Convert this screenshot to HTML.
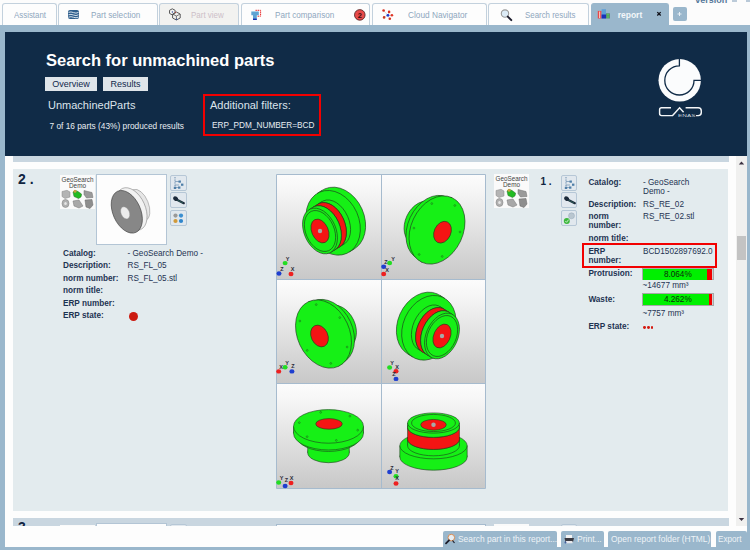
<!DOCTYPE html>
<html><head><meta charset="utf-8">
<style>
*{margin:0;padding:0;box-sizing:border-box}
html,body{width:750px;height:550px;overflow:hidden;background:#fcfcfc;font-family:"Liberation Sans",sans-serif;position:relative}
.a{position:absolute}
.tab{position:absolute;top:3px;height:22px;background:#fdfdfd;border:1px solid #c3d1dd;border-bottom:none;border-radius:3px 3px 0 0;color:#8fa7bd;font-size:9px;line-height:22px;white-space:nowrap}
.tab .t{position:absolute;top:0;transform-origin:0 50%}
.frame{position:absolute;left:0;top:25px;width:750px;height:525px;background:#9ab7cc}
.navy{position:absolute;left:5px;top:32px;width:742px;height:124px;background:#102b47}
.content{position:absolute;left:5px;top:156px;width:742px;height:370px;background:#fdfdfd;overflow:hidden}
.card{position:absolute;background:#e3ebee}
.band{position:absolute;background:#c9d6e0}
.lbl{position:absolute;font-size:8.2px;font-weight:bold;color:#1e3352;white-space:nowrap;line-height:9px}
.val{position:absolute;font-size:8.2px;color:#1e3352;white-space:nowrap;line-height:9px}
.btn{position:absolute;top:531px;height:19px;background:#9ab7cc;border-radius:2px 2px 0 0;color:#eef3f7;font-size:9px;line-height:16px;white-space:nowrap}
</style></head><body>
<!-- top "version" -->
<div class="a" style="left:695.2px;top:-4.3px;font-size:9px;line-height:9px;font-weight:bold;color:#56789a">version</div>
<div class="a" style="left:732px;top:0;width:5px;height:2px;background:#bccbd9"></div>
<div class="a" style="left:746px;top:0;width:4px;height:2px;background:#b9c9d8"></div>

<div class="frame"></div>

<!-- tabs -->
<div class="tab" style="left:2px;width:55px"><span class="t" style="left:10.5px;transform:scaleX(0.877)">Assistant</span></div>
<div class="tab" style="left:58px;width:100px"><span class="t" style="left:31.9px;transform:scaleX(0.905)">Part selection</span></div>
<div class="tab" style="left:159px;width:80px;background:#f2f2f0"><span class="t" style="left:31px;color:#cdbfc8;transform:scaleX(0.886)">Part view</span></div>
<div class="tab" style="left:241px;width:129px"><span class="t" style="left:33.3px;transform:scaleX(0.905)">Part comparison</span></div>
<div class="tab" style="left:372px;width:115px"><span class="t" style="left:35px;transform:scaleX(0.919)">Cloud Navigator</span></div>
<div class="tab" style="left:488px;width:101px"><span class="t" style="left:35.7px;transform:scaleX(0.877)">Search results</span></div>
<div class="tab" style="left:591px;width:78px;background:#9ab7cc;border-color:#9ab7cc;color:#f4f7fa;font-weight:bold"><span class="t" style="left:25.7px;font-size:8.5px">report</span></div>
<div class="a" style="left:673px;top:7px;width:14px;height:14px;background:#9ab7cc;border-radius:2px"></div>

<svg class="a" style="left:0;top:0" width="750" height="26" viewBox="0 0 750 26">
<!-- part selection stack -->
<rect x="68" y="10" width="11" height="9" rx="2" fill="#2f5e8c"/>
<path d="M68.5 12.4 Q71 11.4 73.5 12.6 T78.5 12.4 M68.5 14.8 Q71 13.8 73.5 15 T78.5 14.8 M68.5 17.1 Q71 16.2 73.5 17.3 T78.5 17.1" stroke="#e6eef5" stroke-width="0.9" fill="none"/>
<!-- part view cubes -->
<g fill="none" stroke="#5a5a5a" stroke-width="1">
<path d="M169.5 10.3 L172.3 8.8 L175.1 10.3 L175.1 13.4 L172.3 14.9 L169.5 13.4Z"/>
<path d="M172.6 14 L176.4 12 L180.2 14 L180.2 18 L176.4 20 L172.6 18Z"/>
<path d="M176.4 16 V19.6 M176.4 16 L173 14.3 M176.4 16 L179.8 14.3" stroke-width="0.8"/>
</g>
<circle cx="172.4" cy="12" r="0.7" fill="#3050a0"/><circle cx="175.5" cy="12.4" r="0.6" fill="#b04040"/><circle cx="176.5" cy="19.3" r="0.7" fill="#3050a0"/>
<!-- part comparison -->
<path d="M255.5 10.3 H260.6 V16.2 H257" fill="none" stroke="#e82020" stroke-width="1" stroke-dasharray="1.4 0.7"/>
<path d="M251.3 11.6 H258.8 V15.3 H256.8 V19.8 H253 V15.3 H251.3Z" fill="#5fa3d3"/>
<rect x="253" y="18.6" width="3.8" height="1.4" fill="#1a2fb0"/>
<!-- badge -->
<circle cx="359.8" cy="14.9" r="5.3" fill="#e84a4a" stroke="#4a2020" stroke-width="0.8"/>
<text x="359.8" y="17.6" font-family="Liberation Sans" font-size="7.5" font-weight="bold" fill="#3a1010" text-anchor="middle">2</text>
<!-- cloud navigator -->
<g stroke="#c0c0c8" stroke-width="0.6"><path d="M387.9 15.3 L383.6 10.5 M387.9 15.3 L389.1 11.9 M387.9 15.3 L391.9 15.3 M387.9 15.3 L389.8 18.8 M387.9 15.3 L384.1 17.4"/></g>
<circle cx="383.6" cy="10.5" r="1.3" fill="#d83020"/><circle cx="389.1" cy="11.9" r="1.3" fill="#d83020"/><circle cx="391.9" cy="15.3" r="1.3" fill="#e03828"/><circle cx="389.8" cy="18.8" r="1.3" fill="#d83020"/><circle cx="384.1" cy="17.4" r="1.3" fill="#c83820"/>
<circle cx="387.9" cy="15.3" r="1.4" fill="#1a3ad0"/>
<!-- magnifier -->
<circle cx="505" cy="13.6" r="3.7" fill="#dcebf6" stroke="#9a9a9a" stroke-width="1.1"/>
<path d="M507.8 16.6 L511.3 20.1" stroke="#1e1e2e" stroke-width="2" stroke-linecap="round"/>
<!-- report icon -->
<rect x="597.8" y="10.9" width="3.8" height="7.6" fill="#e84848"/>
<rect x="599" y="11.5" width="1.2" height="6.5" fill="#f8c0b8"/>
<rect x="601.6" y="9.2" width="4.4" height="9.3" fill="#5fa0d8"/>
<rect x="601.6" y="14.5" width="4.4" height="4" fill="#1a30b8"/>
<rect x="606" y="13.3" width="3.9" height="5.2" fill="#5f8a70"/>
<rect x="606.8" y="14.3" width="2.2" height="1" fill="#50e050"/><rect x="606.8" y="16.5" width="2.2" height="1" fill="#50e050"/>
<!-- close x -->
<path d="M657.3 12.1 L660.7 15.5 M660.7 12.1 L657.3 15.5" stroke="#101018" stroke-width="1.3"/>
<!-- plus -->
<path d="M677.5 14 H681.5 M679.5 12 V16" stroke="#e8f0f6" stroke-width="1"/>
</svg>
<div class="navy"></div>
<div class="a" style="left:46px;top:50px;font-size:16.5px;font-weight:bold;color:#ffffff;line-height:20px;white-space:nowrap">Search for unmachined parts</div>
<div class="a" style="left:45px;top:77px;width:52px;height:14px;background:#dfe5ea;color:#10284a;font-size:9px;line-height:14px;text-align:center">Overview</div>
<div class="a" style="left:103px;top:77px;width:45px;height:14px;background:#dfe5ea;color:#10284a;font-size:9px;line-height:14px;text-align:center">Results</div>
<div class="a" style="left:48px;top:99px;font-size:11px;color:#dce4ec;line-height:13px;white-space:nowrap">UnmachinedParts</div>
<div class="a" style="left:49.5px;top:121px;font-size:8.32px;color:#e8edf2;line-height:10px;white-space:nowrap">7 of 16 parts (43%) produced results</div>
<div class="a" style="left:203px;top:94px;width:118px;height:42px;border:2px solid #f20000"></div>
<div class="a" style="left:210px;top:99px;font-size:11px;color:#dce4ec;line-height:13px;white-space:nowrap">Additional filters:</div>
<div class="a" style="left:212px;top:121px;font-size:8.25px;color:#e8edf2;line-height:10px;white-space:nowrap">ERP_PDM_NUMBER=BCD</div>
<svg class="a" style="left:650px;top:55px" width="60" height="70" viewBox="650 55 60 70">
<circle cx="679.7" cy="80.3" r="21.2" fill="#fbfcfd"/>
<path d="M679.4 59 V65.8 A14.6 14.6 0 1 0 694 80.4 H701.5" fill="none" stroke="#102b47" stroke-width="1.3"/>
<path d="M671 107.8 H661.6 Q659.6 107.8 659.6 109.8 V113.6 Q659.6 115.6 661.6 115.6 H672.6 L679.6 107.8 L683.6 112.2 M685.6 107.8 H698.2 Q701.3 107.8 701.3 110.9 V112.5 Q701.3 115.6 698.2 115.6 H696" fill="none" stroke="#f4f6f8" stroke-width="1.45"/>
<text x="678" y="116.6" font-family="Liberation Sans" font-size="4.2" fill="#c4ced8" textLength="17.5" lengthAdjust="spacingAndGlyphs">ENAS</text>
</svg>
<div class="a" style="left:5px;top:526px;width:742px;height:21px;background:#fdfdfd"></div>
<div class="content">
  <div class="band" style="left:8px;top:0;width:716px;height:5.8px"></div>
  <div class="card" style="left:8px;top:13px;width:715px;height:342.3px"></div>
  <div class="band" style="left:8px;top:362.3px;width:716px;height:20px"></div>
  <div class="a" style="left:13px;top:363.3px;font-size:14px;font-weight:bold;color:#10243f;line-height:16px">3</div>
  <div class="a" style="left:55px;top:368.5px;width:35px;height:10px;background:#fafafa"></div>
  <div class="a" style="left:91px;top:367.3px;width:71px;height:10px;background:#fdfdfd;border:1px solid #b3c5d5"></div>
  <div class="a" style="left:165.3px;top:367.8px;width:16.5px;height:10px;background:#e1e8ee;border:1px solid #b6c7d6;border-radius:2px"></div>
  <div class="a" style="left:271px;top:367.5px;width:210px;height:10px;background:#fbfbfb;border:1px solid #a6bbce"></div>
  <div class="a" style="left:489px;top:368.3px;width:35px;height:10px;background:#fafafa"></div>
  <div class="a" style="left:555.5px;top:367.8px;width:16.5px;height:10px;background:#e1e8ee;border:1px solid #b6c7d6;border-radius:2px"></div>
</div>
<div class="a" style="left:18px;top:170.6px;font-size:14px;font-weight:bold;color:#10243f;line-height:16px;white-space:nowrap">2 .</div>
<div class="lbl" style="left:63px;top:249.1px;">Catalog:</div>
<div class="val" style="left:127.5px;top:249.1px;">- GeoSearch Demo -</div>
<div class="lbl" style="left:63px;top:261.3px;">Description:</div>
<div class="val" style="left:127.5px;top:261.3px;">RS_FL_05</div>
<div class="lbl" style="left:63px;top:273.7px;">norm number:</div>
<div class="val" style="left:127.5px;top:273.7px;">RS_FL_05.stl</div>
<div class="lbl" style="left:63px;top:286.3px;">norm title:</div>
<div class="lbl" style="left:63px;top:298.7px;">ERP number:</div>
<div class="lbl" style="left:63px;top:311.0px;">ERP state:</div>
<div class="a" style="left:128.5px;top:311.8px;width:9px;height:9px;border-radius:50%;background:#cc1a10"></div>
<div class="a" style="left:540.5px;top:176px;font-size:10px;font-weight:bold;color:#10243f;line-height:12px;white-space:nowrap">1 .</div>
<div class="lbl" style="left:588.4px;top:178.1px;">Catalog:</div>
<div class="val" style="left:643px;top:178.1px;">- GeoSearch</div>
<div class="val" style="left:643px;top:186.7px;">Demo -</div>
<div class="lbl" style="left:588.4px;top:200.1px;">Description:</div>
<div class="val" style="left:643px;top:200.1px;">RS_RE_02</div>
<div class="lbl" style="left:588.4px;top:212.1px;">norm</div>
<div class="lbl" style="left:588.4px;top:221.1px;">number:</div>
<div class="val" style="left:643px;top:212.1px;">RS_RE_02.stl</div>
<div class="lbl" style="left:588.4px;top:233.7px;">norm title:</div>
<div class="lbl" style="left:588.4px;top:246.7px;">ERP</div>
<div class="lbl" style="left:588.4px;top:255.7px;">number:</div>
<div class="val" style="left:643px;top:246.7px;">BCD1502897692.0</div>
<div class="lbl" style="left:588.4px;top:268.9px;">Protrusion:</div>
<div class="val" style="left:642.4px;top:280.7px;">~14677 mm³</div>
<div class="lbl" style="left:588.4px;top:295.3px;">Waste:</div>
<div class="val" style="left:642.4px;top:309.3px;">~7757 mm³</div>
<div class="lbl" style="left:588.4px;top:322.1px;">ERP state:</div>
<div class="a" style="left:582.4px;top:243px;width:134.5px;height:24.5px;border:2px solid #f20000"></div>
<div class="a" style="left:642.3px;top:267.7px;width:71.5px;height:12.6px;border:1px solid #a8a8a8;background:#cfcfcf"></div>
<div class="a" style="left:643.3px;top:268.7px;width:63.700000000000045px;height:11px;background:#00f000"></div>
<div class="a" style="left:707px;top:268.7px;width:4.7999999999999545px;height:11px;background:#f00000"></div>
<div class="a" style="left:643.3px;top:268.7px;width:69px;height:11px;font-size:8.2px;line-height:11px;text-align:center;color:#0c2a0c">8.064%</div>
<div class="a" style="left:642.3px;top:293.4px;width:71.5px;height:12.6px;border:1px solid #a8a8a8;background:#cfcfcf"></div>
<div class="a" style="left:643.3px;top:294.4px;width:65.70000000000005px;height:11px;background:#00f000"></div>
<div class="a" style="left:709px;top:294.4px;width:2.7999999999999545px;height:11px;background:#f00000"></div>
<div class="a" style="left:643.3px;top:294.4px;width:69px;height:11px;font-size:8.2px;line-height:11px;text-align:center;color:#0c2a0c">4.262%</div>
<div class="a" style="left:643.0px;top:326px;width:2.8px;height:2.8px;border-radius:50%;background:#d41a10"></div>
<div class="a" style="left:646.8px;top:326px;width:2.8px;height:2.8px;border-radius:50%;background:#d41a10"></div>
<div class="a" style="left:650.6px;top:326px;width:2.8px;height:2.8px;border-radius:50%;background:#d41a10"></div>
<svg class="a" style="left:60px;top:175px" width="35" height="34" viewBox="0 0 35 34">
<rect x="0" y="0" width="35" height="34" fill="#fafafa"/>
<text x="17.5" y="7" font-family="Liberation Sans" font-size="6.4" fill="#454545" text-anchor="middle" textLength="32" lengthAdjust="spacingAndGlyphs">GeoSearch</text>
<text x="17.5" y="13.3" font-family="Liberation Sans" font-size="6.4" fill="#454545" text-anchor="middle">Demo</text>
<path d="M2 16.5 L7 15.3 L10 17 L10 22 L5 23.5 L2 21.5Z" fill="#b4b4b4" stroke="#8a8a8a" stroke-width="0.5"/>
<path d="M13 17 Q15 14.5 18 16.5 L21.5 19 Q22 22.5 18.5 23.5 L14 21.5Z" fill="#22bb22" stroke="#2b6a2b" stroke-width="0.5"/>
<circle cx="15" cy="16.2" r="1.5" fill="#c8a040"/>
<path d="M24 15.5 L32 17.5 L33 22.5 L26.5 23 L24 19.5Z" fill="#9a9a9a" stroke="#6f6f6f" stroke-width="0.5"/>
<ellipse cx="5.5" cy="28.5" rx="3.5" ry="4" fill="#b0b0b0" stroke="#7a7a7a" stroke-width="0.5"/>
<ellipse cx="5.5" cy="28.5" rx="1.3" ry="1.6" fill="#e6e6e6"/>
<path d="M13 26 L19 25 L21 28 L23 31 L19 33 L14 31Z" fill="#a8a8a8" stroke="#777" stroke-width="0.5"/>
<path d="M25 25 L32 24.5 L33 30 L30 33.5 L26 32Z" fill="#8e8e8e" stroke="#666" stroke-width="0.5"/>
</svg>
<div class="a" style="left:96px;top:174px;width:71px;height:71px;background:#fdfdfd;border:1px solid #b3c5d5"></div>
<svg class="a" style="left:97px;top:175px" width="69" height="69" viewBox="97 175 69 69">
<ellipse cx="139.5" cy="205" rx="9" ry="16.5" transform="rotate(-22 139.5 205)" fill="#e6e6e6" stroke="#8a8a8a" stroke-width="0.5"/>
<ellipse cx="131.5" cy="209" rx="13.8" ry="22.5" transform="rotate(-24 131.5 209)" fill="#f2f2f2" stroke="#7a7a7a" stroke-width="0.5"/>
<ellipse cx="126.8" cy="211.8" rx="13.8" ry="22.5" transform="rotate(-24 126.8 211.8)" fill="#878787" stroke="#3e3e3e" stroke-width="0.6"/>
<ellipse cx="125.2" cy="212.8" rx="4.2" ry="6.4" transform="rotate(-24 125.2 212.8)" fill="#ececec" stroke="#8a8a8a" stroke-width="0.4"/>
</svg>
<div class="a" style="left:170.3px;top:174.5px;width:16.5px;height:16px;background:#e1e8ee;border:1px solid #b6c7d6;border-radius:2px"></div>
<div class="a" style="left:170.3px;top:192.3px;width:16.5px;height:16px;background:#e1e8ee;border:1px solid #b6c7d6;border-radius:2px"></div>
<div class="a" style="left:170.3px;top:210.2px;width:16.5px;height:16px;background:#e1e8ee;border:1px solid #b6c7d6;border-radius:2px"></div>
<svg class="a" style="left:170.3px;top:174px" width="17" height="53" viewBox="0 0 17 53">
<path d="M5 3 V13.5" stroke="#6d8fb0" stroke-width="1" stroke-dasharray="1 0.6"/>
<path d="M5 7.5 H9 M5 11 H9 M5 13.5 H8" stroke="#6d8fb0" stroke-width="0.7"/>
<rect x="8.5" y="6.5" width="2.4" height="2.2" fill="#4f7fa8"/><rect x="11" y="9.6" width="2.4" height="2.2" fill="#4f7fa8"/><rect x="8" y="12.5" width="2.4" height="2.2" fill="#4f7fa8"/><rect x="3.8" y="12.8" width="2.4" height="2.2" fill="#4f7fa8"/>
<path d="M6.5 25.5 L13.8 29.2" stroke="#1c2a3a" stroke-width="2.2" stroke-linecap="round"/>
<ellipse cx="5.6" cy="24.6" rx="2.6" ry="2.2" transform="rotate(30 5.6 24.6)" fill="#1c2a3a"/>
<path d="M7.5 26.2 L13 29" stroke="#3a8a70" stroke-width="0.5"/>
</svg>
<svg class="a" style="left:170.3px;top:210px" width="17" height="17" viewBox="0 0 17 17">
<circle cx="5.5" cy="5.6" r="2.1" fill="#9a9a9a"/><circle cx="11" cy="5.6" r="2.1" fill="#3b8fd0"/>
<circle cx="5.5" cy="11" r="2.1" fill="#d09a3a"/><circle cx="11" cy="11" r="2.1" fill="#2f86cc"/>
</svg>
<svg class="a" style="left:494px;top:174.3px" width="35" height="34" viewBox="0 0 35 34">
<rect x="0" y="0" width="35" height="34" fill="#fafafa"/>
<text x="17.5" y="7" font-family="Liberation Sans" font-size="6.4" fill="#454545" text-anchor="middle" textLength="32" lengthAdjust="spacingAndGlyphs">GeoSearch</text>
<text x="17.5" y="13.3" font-family="Liberation Sans" font-size="6.4" fill="#454545" text-anchor="middle">Demo</text>
<path d="M2 16.5 L7 15.3 L10 17 L10 22 L5 23.5 L2 21.5Z" fill="#b4b4b4" stroke="#8a8a8a" stroke-width="0.5"/>
<path d="M13 17 Q15 14.5 18 16.5 L21.5 19 Q22 22.5 18.5 23.5 L14 21.5Z" fill="#22bb22" stroke="#2b6a2b" stroke-width="0.5"/>
<circle cx="15" cy="16.2" r="1.5" fill="#c8a040"/>
<path d="M24 15.5 L32 17.5 L33 22.5 L26.5 23 L24 19.5Z" fill="#9a9a9a" stroke="#6f6f6f" stroke-width="0.5"/>
<ellipse cx="5.5" cy="28.5" rx="3.5" ry="4" fill="#b0b0b0" stroke="#7a7a7a" stroke-width="0.5"/>
<ellipse cx="5.5" cy="28.5" rx="1.3" ry="1.6" fill="#e6e6e6"/>
<path d="M13 26 L19 25 L21 28 L23 31 L19 33 L14 31Z" fill="#a8a8a8" stroke="#777" stroke-width="0.5"/>
<path d="M25 25 L32 24.5 L33 30 L30 33.5 L26 32Z" fill="#8e8e8e" stroke="#666" stroke-width="0.5"/>
</svg>
<div class="a" style="left:560.5px;top:174.5px;width:16.5px;height:16px;background:#e1e8ee;border:1px solid #b6c7d6;border-radius:2px"></div>
<div class="a" style="left:560.5px;top:192.3px;width:16.5px;height:16px;background:#e1e8ee;border:1px solid #b6c7d6;border-radius:2px"></div>
<div class="a" style="left:560.5px;top:210.2px;width:16.5px;height:16px;background:#e1e8ee;border:1px solid #b6c7d6;border-radius:2px"></div>
<svg class="a" style="left:560.5px;top:174px" width="17" height="53" viewBox="0 0 17 53">
<path d="M5 3 V13.5" stroke="#6d8fb0" stroke-width="1" stroke-dasharray="1 0.6"/>
<path d="M5 7.5 H9 M5 11 H9 M5 13.5 H8" stroke="#6d8fb0" stroke-width="0.7"/>
<rect x="8.5" y="6.5" width="2.4" height="2.2" fill="#4f7fa8"/><rect x="11" y="9.6" width="2.4" height="2.2" fill="#4f7fa8"/><rect x="8" y="12.5" width="2.4" height="2.2" fill="#4f7fa8"/><rect x="3.8" y="12.8" width="2.4" height="2.2" fill="#4f7fa8"/>
<path d="M6.5 25.5 L13.8 29.2" stroke="#1c2a3a" stroke-width="2.2" stroke-linecap="round"/>
<ellipse cx="5.6" cy="24.6" rx="2.6" ry="2.2" transform="rotate(30 5.6 24.6)" fill="#1c2a3a"/>
<path d="M7.5 26.2 L13 29" stroke="#3a8a70" stroke-width="0.5"/>
</svg>
<svg class="a" style="left:560.5px;top:210px" width="17" height="17" viewBox="0 0 17 17">
<circle cx="10.5" cy="5.8" r="3" fill="#b9c6d0" stroke="#8aa0b0" stroke-width="0.4"/>
<circle cx="5.8" cy="11" r="3" fill="#3cb83c"/><path d="M4.3 11 L5.6 12.3 L7.6 9.6" stroke="#e8f8e8" stroke-width="0.8" fill="none"/>
</svg>
<!--GRID-->
<svg class="a" style="left:275px;top:173px" width="212" height="316" viewBox="0 0 212 316">
<defs><linearGradient id="cg" x1="0" y1="0" x2="0" y2="1"><stop offset="0" stop-color="#fcfcfc"/><stop offset="0.15" stop-color="#f6f6f6"/><stop offset="1" stop-color="#c8c8c8"/></linearGradient></defs>
<rect x="2" y="2" width="104" height="104" fill="url(#cg)"/>
<rect x="107" y="2" width="103" height="104" fill="url(#cg)"/>
<rect x="2" y="107" width="104" height="103" fill="url(#cg)"/>
<rect x="107" y="107" width="103" height="103" fill="url(#cg)"/>
<rect x="2" y="211" width="104" height="104" fill="url(#cg)"/>
<rect x="107" y="211" width="103" height="104" fill="url(#cg)"/>
<path d="M1.5,1.5H210.5V315.5H1.5Z M106.5,1.5V315.5 M1.5,106.5H210.5 M1.5,210.5H210.5" fill="none" stroke="#a6bbce" stroke-width="1"/>
<g transform="translate(1,1)">
<ellipse cx="62.40" cy="45.50" rx="33.50" ry="25.80" transform="rotate(66.0 62.40 45.50)" fill="#16f016" stroke="#1e3a1e" stroke-width="0.6"/>
<polygon points="46.32,16.20 41.06,19.49 73.23,78.08 78.48,74.80" fill="#16f016"/>
<path d="M46.32,16.20L41.06,19.49M73.23,78.08L78.48,74.80" stroke="#1e3a1e" stroke-width="0.6"/>
<ellipse cx="57.14" cy="48.79" rx="33.50" ry="25.80" transform="rotate(66.0 57.14 48.79)" fill="#16f016" stroke="#1e3a1e" stroke-width="0.6"/>
<ellipse cx="57.14" cy="48.79" rx="24.00" ry="15.84" transform="rotate(66.0 57.14 48.79)" fill="#16f016" stroke="#1e3a1e" stroke-width="0.6"/>
<polygon points="46.09,27.55 41.88,30.18 63.99,72.65 68.20,70.02" fill="#16f016"/>
<path d="M46.09,27.55L41.88,30.18M63.99,72.65L68.20,70.02" stroke="#1e3a1e" stroke-width="0.6"/>
<ellipse cx="52.94" cy="51.41" rx="24.00" ry="15.84" transform="rotate(66.0 52.94 51.41)" fill="#16f016" stroke="#1e3a1e" stroke-width="0.6"/>
<ellipse cx="52.94" cy="51.41" rx="24.00" ry="15.84" transform="rotate(66.0 52.94 51.41)" fill="#f41414" stroke="#1e3a1e" stroke-width="0.6"/>
<polygon points="41.88,30.18 36.89,33.30 59.00,75.77 63.99,72.65" fill="#f41414"/>
<path d="M41.88,30.18L36.89,33.30M59.00,75.77L63.99,72.65" stroke="#1e3a1e" stroke-width="0.6"/>
<ellipse cx="47.94" cy="54.54" rx="24.00" ry="15.84" transform="rotate(66.0 47.94 54.54)" fill="#f41414" stroke="#1e3a1e" stroke-width="0.6"/>
<ellipse cx="47.94" cy="54.54" rx="24.00" ry="15.84" transform="rotate(66.0 47.94 54.54)" fill="#16f016" stroke="#1e3a1e" stroke-width="0.6"/>
<polygon points="36.89,33.30 32.94,35.76 55.06,78.24 59.00,75.77" fill="#16f016"/>
<path d="M36.89,33.30L32.94,35.76M55.06,78.24L59.00,75.77" stroke="#1e3a1e" stroke-width="0.6"/>
<ellipse cx="44.00" cy="57.00" rx="24.00" ry="15.84" transform="rotate(66.0 44.00 57.00)" fill="#16f016" stroke="#1e3a1e" stroke-width="0.6"/>
<ellipse cx="44.00" cy="57.00" rx="21.50" ry="14.19" transform="rotate(66.0 44.00 57.00)" fill="none" stroke="#1e3a1e" stroke-width="0.6"/>
<ellipse cx="44.00" cy="57.00" rx="12.50" ry="8.25" transform="rotate(66.0 44.00 57.00)" fill="#f41414" stroke="#1e3a1e" stroke-width="0.6"/>
<circle cx="44.00" cy="57.00" r="2.20" fill="#a8a8a8"/>
<ellipse cx="9.1" cy="89.1" rx="2.5" ry="2.2" fill="#22dd22"/><ellipse cx="3" cy="99.5" rx="2.5" ry="2.2" fill="#1f3fd0"/><ellipse cx="15" cy="100" rx="2.5" ry="2.2" fill="#ee2020"/><text x="11.5" y="86.5" font-family="Liberation Sans" font-size="5.5" font-weight="bold" fill="#2a2a38" text-anchor="middle">Y</text><text x="6" y="96.5" font-family="Liberation Sans" font-size="5.5" font-weight="bold" fill="#2a2a38" text-anchor="middle">Z</text><text x="16.5" y="96.5" font-family="Liberation Sans" font-size="5.5" font-weight="bold" fill="#2a2a38" text-anchor="middle">X</text>
</g>
<g transform="translate(106,1)">
<ellipse cx="41.09" cy="49.05" rx="22.95" ry="16.75" transform="rotate(115.0 41.09 49.05)" fill="#16f016" stroke="#1e3a1e" stroke-width="0.6"/>
<polygon points="50.79,28.25 59.34,29.94 38.18,75.31 31.39,69.85" fill="#16f016"/>
<path d="M50.79,28.25L59.34,29.94M38.18,75.31L31.39,69.85" stroke="#1e3a1e" stroke-width="0.6"/>
<ellipse cx="48.76" cy="52.62" rx="25.03" ry="18.27" transform="rotate(115.0 48.76 52.62)" fill="#16f016" stroke="#1e3a1e" stroke-width="0.6"/>
<ellipse cx="48.76" cy="52.62" rx="25.03" ry="18.27" transform="rotate(115.0 48.76 52.62)" fill="#f41414" stroke="#1e3a1e" stroke-width="0.6"/>
<polygon points="59.34,29.94 60.29,30.12 38.93,75.92 38.18,75.31" fill="#f41414"/>
<path d="M59.34,29.94L60.29,30.12M38.93,75.92L38.18,75.31" stroke="#1e3a1e" stroke-width="0.6"/>
<ellipse cx="49.61" cy="53.02" rx="25.26" ry="18.44" transform="rotate(115.0 49.61 53.02)" fill="#f41414" stroke="#1e3a1e" stroke-width="0.6"/>
<ellipse cx="49.61" cy="53.02" rx="25.26" ry="18.44" transform="rotate(115.0 49.61 53.02)" fill="#16f016" stroke="#1e3a1e" stroke-width="0.6"/>
<polygon points="60.29,30.12 62.66,30.59 40.82,77.44 38.93,75.92" fill="#16f016"/>
<path d="M60.29,30.12L62.66,30.59M40.82,77.44L38.93,75.92" stroke="#1e3a1e" stroke-width="0.6"/>
<ellipse cx="51.74" cy="54.01" rx="25.84" ry="18.87" transform="rotate(115.0 51.74 54.01)" fill="#16f016" stroke="#1e3a1e" stroke-width="0.6"/>
<ellipse cx="51.74" cy="54.01" rx="34.11" ry="24.90" transform="rotate(115.0 51.74 54.01)" fill="#16f016" stroke="#1e3a1e" stroke-width="0.6"/>
<polygon points="66.16,23.10 71.06,23.70 40.94,88.30 37.32,84.93" fill="#16f016"/>
<path d="M66.16,23.10L71.06,23.70M40.94,88.30L37.32,84.93" stroke="#1e3a1e" stroke-width="0.6"/>
<ellipse cx="56.00" cy="56.00" rx="35.64" ry="26.02" transform="rotate(115.0 56.00 56.00)" fill="#16f016" stroke="#1e3a1e" stroke-width="0.6"/>
<ellipse cx="61.50" cy="58.20" rx="11.34" ry="8.28" transform="rotate(115.0 61.50 58.20)" fill="#f41414" stroke="#1e3a1e" stroke-width="0.6"/>
<circle cx="38.16" cy="80.49" r="0.9" fill="none" stroke="#1e3a1e" stroke-width="0.4"/>
<circle cx="32.96" cy="54.05" r="0.9" fill="none" stroke="#1e3a1e" stroke-width="0.4"/>
<circle cx="50.80" cy="29.56" r="0.9" fill="none" stroke="#1e3a1e" stroke-width="0.4"/>
<circle cx="73.84" cy="31.51" r="0.9" fill="none" stroke="#1e3a1e" stroke-width="0.4"/>
<circle cx="79.04" cy="57.95" r="0.9" fill="none" stroke="#1e3a1e" stroke-width="0.4"/>
<circle cx="61.20" cy="82.44" r="0.9" fill="none" stroke="#1e3a1e" stroke-width="0.4"/>
<ellipse cx="8.6" cy="89" rx="2.5" ry="2.2" fill="#22dd22"/><ellipse cx="2.7" cy="92.7" rx="2.5" ry="2.2" fill="#1f3fd0"/><ellipse cx="2.7" cy="100" rx="2.5" ry="2.2" fill="#ee2020"/><text x="12" y="87" font-family="Liberation Sans" font-size="5.5" font-weight="bold" fill="#2a2a38" text-anchor="middle">Y</text><text x="5" y="90" font-family="Liberation Sans" font-size="5.5" font-weight="bold" fill="#2a2a38" text-anchor="middle">Z</text><text x="6" y="98" font-family="Liberation Sans" font-size="5.5" font-weight="bold" fill="#2a2a38" text-anchor="middle">X</text>
</g>
<g transform="translate(1,106)">
<ellipse cx="62.41" cy="48.05" rx="22.95" ry="16.75" transform="rotate(65.0 62.41 48.05)" fill="#16f016" stroke="#1e3a1e" stroke-width="0.6"/>
<polygon points="72.11,68.85 65.32,74.31 44.16,28.94 52.71,27.25" fill="#16f016"/>
<path d="M72.11,68.85L65.32,74.31M44.16,28.94L52.71,27.25" stroke="#1e3a1e" stroke-width="0.6"/>
<ellipse cx="54.74" cy="51.62" rx="25.03" ry="18.27" transform="rotate(65.0 54.74 51.62)" fill="#16f016" stroke="#1e3a1e" stroke-width="0.6"/>
<ellipse cx="54.74" cy="51.62" rx="25.03" ry="18.27" transform="rotate(65.0 54.74 51.62)" fill="#f41414" stroke="#1e3a1e" stroke-width="0.6"/>
<polygon points="65.32,74.31 64.57,74.92 43.21,29.12 44.16,28.94" fill="#f41414"/>
<path d="M65.32,74.31L64.57,74.92M43.21,29.12L44.16,28.94" stroke="#1e3a1e" stroke-width="0.6"/>
<ellipse cx="53.89" cy="52.02" rx="25.26" ry="18.44" transform="rotate(65.0 53.89 52.02)" fill="#f41414" stroke="#1e3a1e" stroke-width="0.6"/>
<ellipse cx="53.89" cy="52.02" rx="25.26" ry="18.44" transform="rotate(65.0 53.89 52.02)" fill="#16f016" stroke="#1e3a1e" stroke-width="0.6"/>
<polygon points="64.57,74.92 62.68,76.44 40.84,29.59 43.21,29.12" fill="#16f016"/>
<path d="M64.57,74.92L62.68,76.44M40.84,29.59L43.21,29.12" stroke="#1e3a1e" stroke-width="0.6"/>
<ellipse cx="51.76" cy="53.01" rx="25.84" ry="18.87" transform="rotate(65.0 51.76 53.01)" fill="#16f016" stroke="#1e3a1e" stroke-width="0.6"/>
<ellipse cx="51.76" cy="53.01" rx="34.11" ry="24.90" transform="rotate(65.0 51.76 53.01)" fill="#16f016" stroke="#1e3a1e" stroke-width="0.6"/>
<polygon points="66.18,83.93 62.56,87.30 32.44,22.70 37.34,22.10" fill="#16f016"/>
<path d="M66.18,83.93L62.56,87.30M32.44,22.70L37.34,22.10" stroke="#1e3a1e" stroke-width="0.6"/>
<ellipse cx="47.50" cy="55.00" rx="35.64" ry="26.02" transform="rotate(65.0 47.50 55.00)" fill="#16f016" stroke="#1e3a1e" stroke-width="0.6"/>
<ellipse cx="43.50" cy="57.00" rx="11.34" ry="8.28" transform="rotate(65.0 43.50 57.00)" fill="#f41414" stroke="#1e3a1e" stroke-width="0.6"/>
<circle cx="54.79" cy="84.40" r="0.9" fill="none" stroke="#1e3a1e" stroke-width="0.4"/>
<circle cx="31.20" cy="71.39" r="0.9" fill="none" stroke="#1e3a1e" stroke-width="0.4"/>
<circle cx="23.90" cy="41.99" r="0.9" fill="none" stroke="#1e3a1e" stroke-width="0.4"/>
<circle cx="40.21" cy="25.60" r="0.9" fill="none" stroke="#1e3a1e" stroke-width="0.4"/>
<circle cx="63.80" cy="38.61" r="0.9" fill="none" stroke="#1e3a1e" stroke-width="0.4"/>
<circle cx="71.10" cy="68.01" r="0.9" fill="none" stroke="#1e3a1e" stroke-width="0.4"/>
<ellipse cx="2.7" cy="92.4" rx="2.5" ry="2.2" fill="#ee2020"/><ellipse cx="9.1" cy="88.3" rx="2.5" ry="2.2" fill="#22dd22"/><ellipse cx="15.9" cy="92.4" rx="2.5" ry="2.2" fill="#1f3fd0"/><text x="5" y="90" font-family="Liberation Sans" font-size="5.5" font-weight="bold" fill="#2a2a38" text-anchor="middle">X</text><text x="11" y="86" font-family="Liberation Sans" font-size="5.5" font-weight="bold" fill="#2a2a38" text-anchor="middle">Y</text><text x="17" y="89" font-family="Liberation Sans" font-size="5.5" font-weight="bold" fill="#2a2a38" text-anchor="middle">Z</text>
</g>
<g transform="translate(106,106)">
<ellipse cx="42.60" cy="45.50" rx="33.50" ry="25.80" transform="rotate(114.0 42.60 45.50)" fill="#16f016" stroke="#1e3a1e" stroke-width="0.6"/>
<polygon points="26.52,74.80 31.77,78.08 63.94,19.49 58.68,16.20" fill="#16f016"/>
<path d="M26.52,74.80L31.77,78.08M63.94,19.49L58.68,16.20" stroke="#1e3a1e" stroke-width="0.6"/>
<ellipse cx="47.86" cy="48.79" rx="33.50" ry="25.80" transform="rotate(114.0 47.86 48.79)" fill="#16f016" stroke="#1e3a1e" stroke-width="0.6"/>
<ellipse cx="47.86" cy="48.79" rx="24.00" ry="15.84" transform="rotate(114.0 47.86 48.79)" fill="#16f016" stroke="#1e3a1e" stroke-width="0.6"/>
<polygon points="36.80,70.02 41.01,72.65 63.12,30.18 58.91,27.55" fill="#16f016"/>
<path d="M36.80,70.02L41.01,72.65M63.12,30.18L58.91,27.55" stroke="#1e3a1e" stroke-width="0.6"/>
<ellipse cx="52.06" cy="51.41" rx="24.00" ry="15.84" transform="rotate(114.0 52.06 51.41)" fill="#16f016" stroke="#1e3a1e" stroke-width="0.6"/>
<ellipse cx="52.06" cy="51.41" rx="24.00" ry="15.84" transform="rotate(114.0 52.06 51.41)" fill="#f41414" stroke="#1e3a1e" stroke-width="0.6"/>
<polygon points="41.01,72.65 46.00,75.77 68.11,33.30 63.12,30.18" fill="#f41414"/>
<path d="M41.01,72.65L46.00,75.77M68.11,33.30L63.12,30.18" stroke="#1e3a1e" stroke-width="0.6"/>
<ellipse cx="57.06" cy="54.54" rx="24.00" ry="15.84" transform="rotate(114.0 57.06 54.54)" fill="#f41414" stroke="#1e3a1e" stroke-width="0.6"/>
<ellipse cx="57.06" cy="54.54" rx="24.00" ry="15.84" transform="rotate(114.0 57.06 54.54)" fill="#16f016" stroke="#1e3a1e" stroke-width="0.6"/>
<polygon points="46.00,75.77 49.94,78.24 72.06,35.76 68.11,33.30" fill="#16f016"/>
<path d="M46.00,75.77L49.94,78.24M72.06,35.76L68.11,33.30" stroke="#1e3a1e" stroke-width="0.6"/>
<ellipse cx="61.00" cy="57.00" rx="24.00" ry="15.84" transform="rotate(114.0 61.00 57.00)" fill="#16f016" stroke="#1e3a1e" stroke-width="0.6"/>
<ellipse cx="61.00" cy="57.00" rx="21.50" ry="14.19" transform="rotate(114.0 61.00 57.00)" fill="none" stroke="#1e3a1e" stroke-width="0.6"/>
<ellipse cx="61.00" cy="57.00" rx="12.50" ry="8.25" transform="rotate(114.0 61.00 57.00)" fill="#f41414" stroke="#1e3a1e" stroke-width="0.6"/>
<circle cx="61.00" cy="57.00" r="2.20" fill="#a8a8a8"/>
<ellipse cx="8.6" cy="88.5" rx="2.5" ry="2.2" fill="#22dd22"/><ellipse cx="15" cy="92.2" rx="2.5" ry="2.2" fill="#ee2020"/><ellipse cx="15" cy="99.9" rx="2.5" ry="2.2" fill="#1f3fd0"/><text x="11" y="86" font-family="Liberation Sans" font-size="5.5" font-weight="bold" fill="#2a2a38" text-anchor="middle">Y</text><text x="16" y="90" font-family="Liberation Sans" font-size="5.5" font-weight="bold" fill="#2a2a38" text-anchor="middle">X</text><text x="13" y="97" font-family="Liberation Sans" font-size="5.5" font-weight="bold" fill="#2a2a38" text-anchor="middle">Z</text>
</g>
<g transform="translate(1,210)">
<ellipse cx="52.50" cy="69.75" rx="20.78" ry="9.97" transform="rotate(0.0 52.50 69.75)" fill="#16f016" stroke="#1e3a1e" stroke-width="0.6"/>
<polygon points="31.72,69.75 31.72,53.17 73.28,53.17 73.28,69.75" fill="#16f016"/>
<path d="M31.72,69.75L31.72,53.17M73.28,53.17L73.28,69.75" stroke="#1e3a1e" stroke-width="0.6"/>
<ellipse cx="52.50" cy="53.17" rx="20.78" ry="9.97" transform="rotate(0.0 52.50 53.17)" fill="#16f016" stroke="#1e3a1e" stroke-width="0.6"/>
<ellipse cx="52.50" cy="53.17" rx="31.80" ry="15.26" transform="rotate(0.0 52.50 53.17)" fill="#16f016" stroke="#1e3a1e" stroke-width="0.6"/>
<polygon points="20.70,53.17 20.70,50.20 84.30,50.20 84.30,53.17" fill="#16f016"/>
<path d="M20.70,53.17L20.70,50.20M84.30,50.20L84.30,53.17" stroke="#1e3a1e" stroke-width="0.6"/>
<ellipse cx="52.50" cy="50.20" rx="31.80" ry="15.26" transform="rotate(0.0 52.50 50.20)" fill="#16f016" stroke="#1e3a1e" stroke-width="0.6"/>
<ellipse cx="52.50" cy="50.20" rx="34.98" ry="16.79" transform="rotate(0.0 52.50 50.20)" fill="#16f016" stroke="#1e3a1e" stroke-width="0.6"/>
<polygon points="17.52,50.20 17.52,43.40 87.48,43.40 87.48,50.20" fill="#16f016"/>
<path d="M17.52,50.20L17.52,43.40M87.48,43.40L87.48,50.20" stroke="#1e3a1e" stroke-width="0.6"/>
<ellipse cx="52.50" cy="43.40" rx="34.98" ry="16.79" transform="rotate(0.0 52.50 43.40)" fill="#16f016" stroke="#1e3a1e" stroke-width="0.6"/>
<ellipse cx="53.00" cy="40.90" rx="13.25" ry="5.30" transform="rotate(0.0 53.00 40.90)" fill="#f41414" stroke="#1e3a1e" stroke-width="0.6"/>
<circle cx="81.68" cy="47.15" r="0.9" fill="none" stroke="#1e3a1e" stroke-width="0.4"/>
<circle cx="60.32" cy="57.41" r="0.9" fill="none" stroke="#1e3a1e" stroke-width="0.4"/>
<circle cx="31.14" cy="53.65" r="0.9" fill="none" stroke="#1e3a1e" stroke-width="0.4"/>
<circle cx="23.32" cy="39.65" r="0.9" fill="none" stroke="#1e3a1e" stroke-width="0.4"/>
<circle cx="44.68" cy="29.39" r="0.9" fill="none" stroke="#1e3a1e" stroke-width="0.4"/>
<circle cx="73.86" cy="33.15" r="0.9" fill="none" stroke="#1e3a1e" stroke-width="0.4"/>
<ellipse cx="2.7" cy="99.5" rx="2.5" ry="2.2" fill="#22dd22"/><ellipse cx="9.1" cy="103" rx="2.5" ry="2.2" fill="#1f3fd0"/><ellipse cx="15" cy="100" rx="2.5" ry="2.2" fill="#ee2020"/><text x="5.5" y="97" font-family="Liberation Sans" font-size="5.5" font-weight="bold" fill="#2a2a38" text-anchor="middle">Y</text><text x="10.5" y="99" font-family="Liberation Sans" font-size="5.5" font-weight="bold" fill="#2a2a38" text-anchor="middle">Z</text><text x="15.5" y="97" font-family="Liberation Sans" font-size="5.5" font-weight="bold" fill="#2a2a38" text-anchor="middle">X</text>
</g>
<g transform="translate(106,210)">
<ellipse cx="52.50" cy="74.05" rx="33.66" ry="13.13" transform="rotate(0.0 52.50 74.05)" fill="#16f016" stroke="#1e3a1e" stroke-width="0.6"/>
<polygon points="86.16,74.05 86.16,62.70 18.84,62.70 18.84,74.05" fill="#16f016"/>
<path d="M86.16,74.05L86.16,62.70M18.84,62.70L18.84,74.05" stroke="#1e3a1e" stroke-width="0.6"/>
<ellipse cx="52.50" cy="62.70" rx="33.66" ry="13.13" transform="rotate(0.0 52.50 62.70)" fill="#16f016" stroke="#1e3a1e" stroke-width="0.6"/>
<ellipse cx="52.50" cy="62.70" rx="25.91" ry="10.10" transform="rotate(0.0 52.50 62.70)" fill="#16f016" stroke="#1e3a1e" stroke-width="0.6"/>
<polygon points="78.41,62.70 78.41,56.33 26.59,56.33 26.59,62.70" fill="#16f016"/>
<path d="M78.41,62.70L78.41,56.33M26.59,56.33L26.59,62.70" stroke="#1e3a1e" stroke-width="0.6"/>
<ellipse cx="52.50" cy="56.33" rx="25.91" ry="10.10" transform="rotate(0.0 52.50 56.33)" fill="#16f016" stroke="#1e3a1e" stroke-width="0.6"/>
<ellipse cx="52.50" cy="56.33" rx="25.91" ry="10.10" transform="rotate(0.0 52.50 56.33)" fill="#f41414" stroke="#1e3a1e" stroke-width="0.6"/>
<polygon points="78.41,56.33 78.41,44.28 26.59,44.28 26.59,56.33" fill="#f41414"/>
<path d="M78.41,56.33L78.41,44.28M26.59,44.28L26.59,56.33" stroke="#1e3a1e" stroke-width="0.6"/>
<ellipse cx="52.50" cy="44.28" rx="25.91" ry="10.10" transform="rotate(0.0 52.50 44.28)" fill="#f41414" stroke="#1e3a1e" stroke-width="0.6"/>
<ellipse cx="52.50" cy="44.28" rx="25.91" ry="10.10" transform="rotate(0.0 52.50 44.28)" fill="#16f016" stroke="#1e3a1e" stroke-width="0.6"/>
<polygon points="78.41,44.28 78.41,40.00 26.59,40.00 26.59,44.28" fill="#16f016"/>
<path d="M78.41,44.28L78.41,40.00M26.59,40.00L26.59,44.28" stroke="#1e3a1e" stroke-width="0.6"/>
<ellipse cx="52.50" cy="40.00" rx="25.91" ry="10.10" transform="rotate(0.0 52.50 40.00)" fill="#16f016" stroke="#1e3a1e" stroke-width="0.6"/>
<ellipse cx="52.50" cy="40.00" rx="21.93" ry="8.55" transform="rotate(0.0 52.50 40.00)" fill="none" stroke="#1e3a1e" stroke-width="0.6"/>
<ellipse cx="52.50" cy="41.80" rx="12.75" ry="5.35" transform="rotate(0.0 52.50 41.80)" fill="#f41414" stroke="#1e3a1e" stroke-width="0.6"/>
<circle cx="52.50" cy="41.80" r="2.24" fill="#a8a8a8"/>
<ellipse cx="8.6" cy="89" rx="2.5" ry="2.2" fill="#1f3fd0"/><ellipse cx="15" cy="93.2" rx="2.5" ry="2.2" fill="#22dd22"/><ellipse cx="15" cy="100.5" rx="2.5" ry="2.2" fill="#ee2020"/><text x="11" y="87" font-family="Liberation Sans" font-size="5.5" font-weight="bold" fill="#2a2a38" text-anchor="middle">Z</text><text x="16" y="90" font-family="Liberation Sans" font-size="5.5" font-weight="bold" fill="#2a2a38" text-anchor="middle">Y</text><text x="16" y="97" font-family="Liberation Sans" font-size="5.5" font-weight="bold" fill="#2a2a38" text-anchor="middle">X</text>
</g>
</svg>
<!--/GRID-->
<!-- scrollbar -->
<div class="a" style="left:736px;top:156px;width:11px;height:370px;background:#f0f0ef"></div>
<div class="a" style="left:737px;top:236px;width:9px;height:24px;background:#c3c3c3"></div>

<svg class="a" style="left:736px;top:156px" width="11" height="370" viewBox="0 0 11 370">
<path d="M2.8 8.5 L5.5 5.6 L8.2 8.5Z" fill="#3a3040"/>
<path d="M2.8 362 L5.5 365 L8.2 362Z" fill="#3a3040"/>
</svg>
<!-- bottom buttons -->
<div class="btn" style="left:442.5px;width:114.3px"><span style="position:absolute;left:15.8px;transform:scaleX(0.935);transform-origin:0 50%">Search part in this report...</span></div>
<div class="btn" style="left:561px;width:42.8px"><span style="position:absolute;left:16.3px;transform:scaleX(0.95);transform-origin:0 50%">Print...</span></div>
<div class="btn" style="left:608px;width:102.5px"><span style="position:absolute;left:3px;transform:scaleX(0.937);transform-origin:0 50%">Open report folder (HTML)</span></div>
<div class="btn" style="left:716px;width:31px"><span style="position:absolute;left:2.2px;transform:scaleX(0.9);transform-origin:0 50%">Export</span></div>
<svg class="a" style="left:440px;top:530px" width="140" height="20" viewBox="440 530 140 20">
<circle cx="451.3" cy="537.6" r="3.3" fill="#e8eef2" stroke="#d88a50" stroke-width="1"/>
<path d="M449 540.3 L446 543.3" stroke="#1a1a28" stroke-width="1.8" stroke-linecap="round"/>
<path d="M452.5 540.5 L454.5 543" stroke="#1a1a28" stroke-width="1.2"/>
<rect x="566" y="535" width="6" height="3" fill="#f4f4f4"/>
<path d="M564.5 538 H574 L573 542 H565.5Z" fill="#3a3a42"/>
<rect x="566" y="541" width="6.5" height="2.3" fill="#e8e8ec"/>
<circle cx="565.5" cy="542.5" r="1" fill="#4060a0"/>
</svg>
</body></html>
